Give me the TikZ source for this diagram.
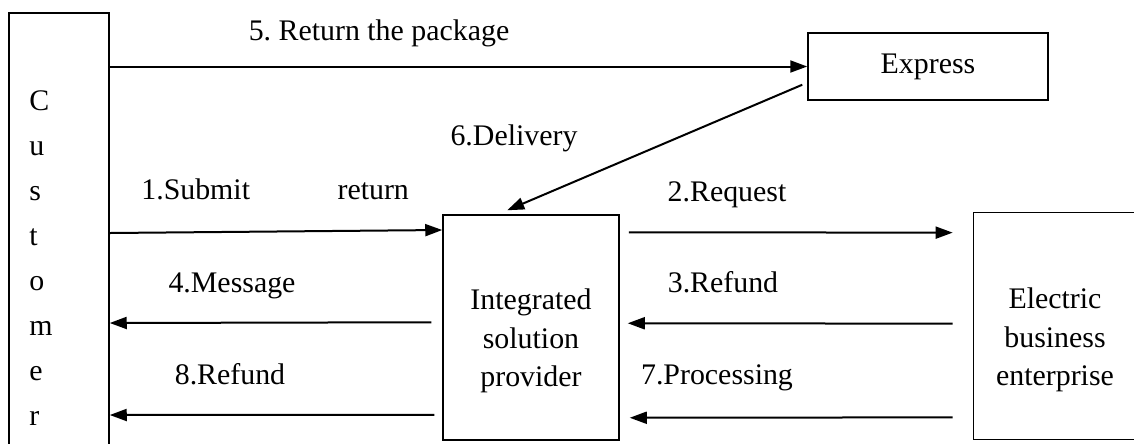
\documentclass[tikz,border=0pt]{standalone}
\usepackage{fontspec}
\setmainfont{Liberation Serif}
\frenchspacing
\usetikzlibrary{positioning, arrows.meta, calc}

\tikzset{
  box/.style={draw, line width=0.3mm, inner sep=0pt},
  lbl/.style={inner sep=0pt, font=\fontsize{17}{22}\selectfont},
  flow/.style={draw, line width=0.4mm, -{Triangle[length=3.4mm,width=2.4mm]}}
}

\begin{document}
\begin{tikzpicture}[x=0.2mm, y=-0.2mm]
  \useasboundingbox (0,0) rectangle (1134,443);
  \clip (0,0) rectangle (1134,443);

  % boxes
  \node[box, minimum width=20mm, minimum height=89.4mm] (cust) at (59,236.5) {};
  \node[box, minimum width=48mm, minimum height=13.4mm] (express) at (928,66.5) {};
  \node[box, minimum width=35.2mm, minimum height=45mm] (integ) at (531,327.5) {};
  % right side runs off the page
  \node[inner sep=0pt, minimum width=40mm, minimum height=45.2mm] (elec) at (1074,326) {};
  \draw[line width=0.3mm] (elec.north east) -- (elec.north west) -- (elec.south west) -- (elec.south east);

  % box texts
  \foreach \ch [count=\i] in {C,u,s,t,o,m,e,r}
    \node[lbl, anchor=base west] (c\i) at (29,65+45*\i) {\ch};
  \node[lbl] (expresstext) at (express.center) {Express};
  \node[lbl, align=center] (integtext) at (531,341) {Integrated\\solution\\provider};
  \node[lbl, align=center] (electext) at (1055,340) {Electric\\business\\enterprise};

  % arrows
  \draw[flow] (cust.east |- express) -- (express.west);
  \draw[flow] ($(express.south west)+(-5,-16)$) -- ($(integ.north west)+(65,-4)$);
  \draw[flow] (cust.east |- 0,233) -- (integ.west |- 0,230);
  \draw[flow] ($(integ.north east)+(9,18)$) -- ($(elec.north west)+(-21,20)$);
  \draw[flow] ($(elec.north west)+(-21,111)$) -- ($(integ.north east)+(8,109)$);
  \draw[flow] ($(integ.north west)+(-11,108)$) -- (cust.east |- 0,323);
  \draw[flow] ($(elec.south west)+(-21,-22)$) -- ($(integ.south east)+(10,-23)$);
  \draw[flow] ($(integ.south west)+(-8,-26)$) -- (cust.east |- 0,415);

  % arrow labels
  \node[lbl, anchor=base] (l5) at (379,40) {5. Return the package};
  \node[lbl, anchor=base] (l6) at (514,145) {6.Delivery};
  \node[lbl, anchor=base west] (l1) at (141,199) {1.Submit\hspace{17.5mm}return};
  \node[lbl, anchor=base] (l2) at (727,201) {2.Request};
  \node[lbl, anchor=base] (l4) at (232,292) {4.Message};
  \node[lbl, anchor=base] (l3) at (723,292) {3.Refund};
  \node[lbl, anchor=base] (l8) at (230,384) {8.Refund};
  \node[lbl, anchor=base] (l7) at (717,384) {7.Processing};
\end{tikzpicture}
\end{document}
